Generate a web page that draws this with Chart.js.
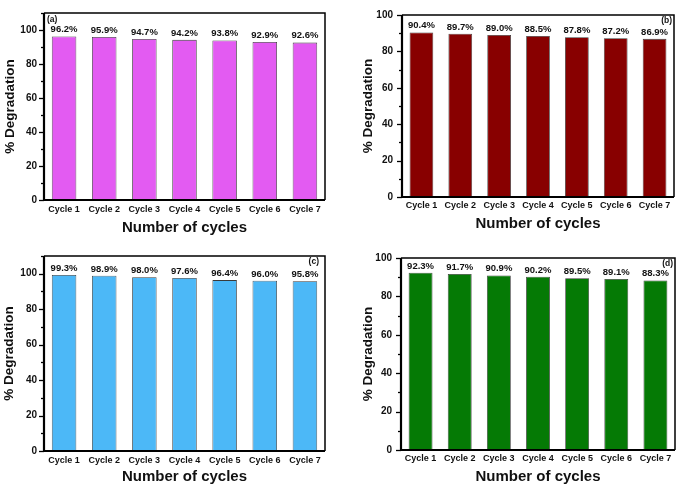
<!DOCTYPE html>
<html>
<head>
<meta charset="utf-8">
<script src="https://cdn.jsdelivr.net/npm/chart.js@4"></script>
<style>
  body { margin: 0; background: #fff; }
  #wrap { position: relative; width: 685px; height: 486px; }
  canvas { position: absolute; }
</style>
</head>
<body>
<div id="wrap">
  <canvas id="ca" width="342" height="243" style="left:0;top:0"></canvas>
  <canvas id="cb" width="343" height="243" style="left:342px;top:0"></canvas>
  <canvas id="cc" width="342" height="243" style="left:0;top:243px"></canvas>
  <canvas id="cd" width="343" height="243" style="left:342px;top:243px"></canvas>
</div>
<script>
var cycles = ['Cycle 1', 'Cycle 2', 'Cycle 3', 'Cycle 4', 'Cycle 5', 'Cycle 6', 'Cycle 7'];
var degradationA = [96.2, 95.9, 94.7, 94.2, 93.8, 92.9, 92.6];
var degradationB = [90.4, 89.7, 89.0, 88.5, 87.8, 87.2, 86.9];
var degradationC = [99.3, 98.9, 98.0, 97.6, 96.4, 96.0, 95.8];
var degradationD = [92.3, 91.7, 90.9, 90.2, 89.5, 89.1, 88.3];
var yTicks = [0, 20, 40, 60, 80, 100];

var FONT = '"Liberation Sans", Arial, sans-serif';

// frame, minor ticks, value labels and the (a)/(b)... tag
var framePlugin = {
  id: 'frame',
  afterDraw: function(chart) {
    var ctx = chart.ctx;
    var a = chart.chartArea;
    var y = chart.scales.y;
    var o = chart.options.plugins.frame;
    ctx.save();
    ctx.strokeStyle = '#000';
    // y ticks, major every 20, minor every 10
    ctx.lineWidth = 1.3;
    for (var v = 0; v <= y.max; v += 10) {
      var py = Math.round(y.getPixelForValue(v)) + 0.5;
      var len = (v % 20 === 0) ? 5 : 3;
      ctx.beginPath();
      ctx.moveTo(a.left - len, py);
      ctx.lineTo(a.left, py);
      ctx.stroke();
    }
    // thin top/right
    ctx.lineWidth = 1.5;
    ctx.beginPath();
    ctx.moveTo(a.left, a.top);
    ctx.lineTo(a.right, a.top);
    ctx.lineTo(a.right, a.bottom);
    ctx.stroke();
    // thick left/bottom
    ctx.lineWidth = 2.2;
    ctx.beginPath();
    ctx.moveTo(a.left, a.top);
    ctx.lineTo(a.left, a.bottom);
    ctx.lineTo(a.right, a.bottom);
    ctx.stroke();

    // values on top of the bars
    ctx.fillStyle = '#111';
    ctx.font = 'bold 9.5px ' + FONT;
    ctx.textAlign = 'center';
    ctx.textBaseline = 'bottom';
    var meta = chart.getDatasetMeta(0);
    var data = chart.data.datasets[0].data;
    meta.data.forEach(function(bar, i) {
      ctx.fillText(data[i].toFixed(1) + '%', bar.x, bar.y - 2);
    });

    // panel tag
    ctx.font = 'bold 8.5px ' + FONT;
    ctx.textBaseline = 'middle';
    if (o.tagLeft) {
      ctx.textAlign = 'left';
      ctx.fillText(o.tag, a.left + 3, a.top + 7);
    } else {
      ctx.textAlign = 'right';
      ctx.fillText(o.tag, a.right - o.tagInset, a.top + 6);
    }
    ctx.restore();
  }
};

function makePanel(id, values, color, opts) {
  new Chart(document.getElementById(id), {
    type: 'bar',
    data: {
      labels: cycles,
      datasets: [{
        data: values,
        backgroundColor: color,
        borderColor: '#3a3a3a',
        borderWidth: 0.8,
        barPercentage: 0.61,
        categoryPercentage: 1
      }]
    },
    options: {
      responsive: false,
      animation: false,
      layout: { padding: { top: opts.top, right: opts.right, left: 0, bottom: 0 } },
      plugins: {
        legend: { display: false },
        tooltip: { enabled: false },
        frame: { tag: opts.tag, tagLeft: opts.tagLeft, tagInset: opts.tagInset || 3 }
      },
      scales: {
        x: {
          grid: { display: false, drawTicks: false },
          border: { display: false },
          ticks: { color: '#111', padding: opts.xPad, font: { family: FONT, weight: 'bold', size: 9 } },
          title: {
            display: true,
            text: 'Number of cycles',
            color: '#111',
            padding: { top: 0, bottom: opts.xTitlePad },
            font: { family: FONT, weight: 'bold', size: 15 }
          },
          afterFit: function(s) { s.height = opts.xHeight; }
        },
        y: {
          min: 0,
          max: opts.max,
          grid: { display: false, drawTicks: false },
          border: { display: false },
          afterBuildTicks: function(s) {
            s.ticks = yTicks.map(function(v) { return { value: v }; });
          },
          ticks: { color: '#111', padding: opts.yPad, font: { family: FONT, weight: 'bold', size: 10 } },
          title: {
            display: true,
            text: '% Degradation',
            color: '#111',
            padding: { top: opts.yTitlePad, bottom: 0 },
            font: { family: FONT, weight: 'bold', size: 13.5 }
          },
          afterFit: function(s) { s.width = opts.yWidth; }
        }
      }
    },
    plugins: [framePlugin]
  });
}

makePanel('ca', degradationA, '#e35bf2', {
  tag: '(a)', tagLeft: true, max: 110,
  top: 5, right: 17, yWidth: 44, xHeight: 43,
  yPad: 7, xPad: 4, yTitlePad: 2, xTitlePad: 6
});
makePanel('cb', degradationB, '#880000', {
  tag: '(b)', tagLeft: false, tagInset: 2, max: 100,
  top: 6, right: 11, yWidth: 60, xHeight: 46,
  yPad: 9, xPad: 3, yTitlePad: 18, xTitlePad: 10
});
makePanel('cc', degradationC, '#4cb8f7', {
  tag: '(c)', tagLeft: false, tagInset: 6, max: 110,
  top: 13, right: 17, yWidth: 44, xHeight: 35,
  yPad: 7, xPad: 4, yTitlePad: 1, xTitlePad: 0
});
makePanel('cd', degradationD, '#057a05', {
  tag: '(d)', tagLeft: false, tagInset: 2, max: 100,
  top: 10, right: 10, yWidth: 59, xHeight: 36,
  yPad: 9, xPad: 3, yTitlePad: 18, xTitlePad: 0
});
</script>
</body>
</html>
